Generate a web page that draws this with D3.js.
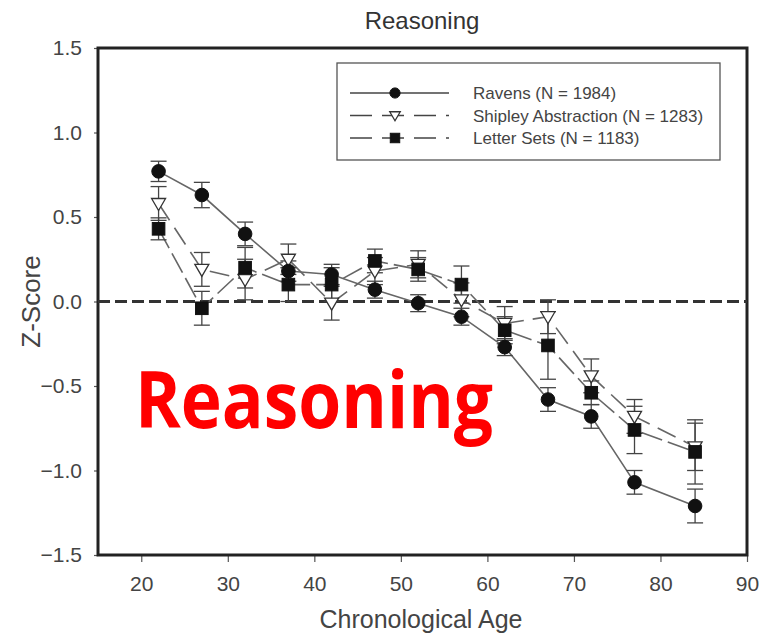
<!DOCTYPE html>
<html>
<head>
<meta charset="utf-8">
<script src="https://cdn.jsdelivr.net/npm/d3@7"></script>
<style>
    body { margin: 0; background: #fff; }
    svg { display: block; font-family: "Liberation Sans", Arial, sans-serif; }
</style>
</head>
<body>
<svg class="graph" width="767" height="637"></svg>
<script>
// data
const ages = [22, 27, 32, 37, 42, 47, 52, 57, 62, 67, 72, 77, 84];
const ravens = [0.77, 0.63, 0.40, 0.18, 0.16, 0.07, -0.01, -0.09, -0.27, -0.58, -0.68, -1.07, -1.21];
const ravensErr = [0.06, 0.075, 0.07, 0.06, 0.06, 0.05, 0.05, 0.05, 0.05, 0.07, 0.07, 0.07, 0.1];
const shipley = [0.58, 0.19, 0.13, 0.25, -0.01, 0.18, 0.22, 0.01, -0.13, -0.09, -0.44, -0.68, -0.86];
const shipleyErr = [0.1, 0.1, 0.12, 0.09, 0.1, 0.08, 0.08, 0.1, 0.1, 0.1, 0.1, 0.1, 0.14];
const letterSets = [0.43, -0.04, 0.20, 0.10, 0.10, 0.24, 0.19, 0.10, -0.17, -0.26, -0.54, -0.76, -0.89];
const letterErr = [0.065, 0.1, 0.12, 0.1, 0.1, 0.07, 0.07, 0.11, 0.08, 0.2, 0.07, 0.14, 0.19];
const xTicks = [20, 30, 40, 50, 60, 70, 80, 90];
const yTicks = [1.5, 1.0, 0.5, 0.0, -0.5, -1.0, -1.5];

const series = [
    { name: 'Ravens (N = 1984)', values: ravens, err: ravensErr, marker: 'circle', dash: null },
    { name: 'Shipley Abstraction (N = 1283)', values: shipley, err: shipleyErr, marker: 'triangle', dash: '20,9' },
    { name: 'Letter Sets (N = 1183)', values: letterSets, err: letterErr, marker: 'square', dash: '22,6' }
];

const m = { left: 98, top: 48, right: 20, bottom: 82 };
const w = 767 - m.left - m.right;
const h = 637 - m.top - m.bottom;

const svg = d3.select('svg.graph');
const g = svg.append('g').attr('transform', `translate(${m.left},${m.top})`);

const x = d3.scaleLinear().domain([15, 90]).range([0, w]);
const y = d3.scaleLinear().domain([-1.5, 1.5]).range([h, 0]);

// axes
const xAxis = g.append('g')
    .attr('transform', `translate(0,${h})`)
    .call(d3.axisBottom(x).tickValues(xTicks).tickSize(7).tickPadding(14).tickFormat(d3.format('d')));
const yAxis = g.append('g')
    .call(d3.axisLeft(y).tickValues(yTicks).tickSize(4).tickPadding(12).tickFormat(d3.format('.1f')));
[xAxis, yAxis].forEach(a => {
    a.select('.domain').remove();
    a.selectAll('line').attr('stroke', '#555').attr('stroke-width', 1.2);
    a.selectAll('text').attr('fill', '#444').attr('font-size', 21);
});

// frame
g.append('rect')
    .attr('width', w).attr('height', h)
    .attr('fill', 'none').attr('stroke', '#222').attr('stroke-width', 3);

// zero reference line
g.append('line')
    .attr('x1', 0).attr('x2', w)
    .attr('y1', y(0)).attr('y2', y(0))
    .attr('stroke', '#333').attr('stroke-width', 3)
    .attr('stroke-dasharray', '12,5');

// series lines
const line = d3.line().x((d, i) => x(ages[i])).y(d => y(d));
series.forEach(s => {
    g.append('path')
        .datum(s.values)
        .attr('d', line)
        .attr('fill', 'none')
        .attr('stroke', '#666')
        .attr('stroke-width', 1.6)
        .attr('stroke-dasharray', s.dash);
});

// error bars
series.forEach(s => {
    const eb = g.append('g').attr('stroke', '#444').attr('stroke-width', 1.3);
    s.values.forEach((v, i) => {
        const cx = x(ages[i]);
        const top = y(v + s.err[i]), bot = y(v - s.err[i]);
        eb.append('line').attr('x1', cx).attr('x2', cx).attr('y1', top).attr('y2', bot);
        eb.append('line').attr('x1', cx - 8).attr('x2', cx + 8).attr('y1', top).attr('y2', top);
        eb.append('line').attr('x1', cx - 8).attr('x2', cx + 8).attr('y1', bot).attr('y2', bot);
    });
});

// markers
function drawMarker(sel, type, cx, cy, k = 1) {
    if (type === 'circle') {
        sel.append('circle').attr('cx', cx).attr('cy', cy).attr('r', 6.8 * k)
            .attr('fill', '#111').attr('stroke', '#111');
    } else if (type === 'square') {
        const s = 6.3 * k;
        sel.append('rect').attr('x', cx - s).attr('y', cy - s).attr('width', 2 * s).attr('height', 2 * s)
            .attr('fill', '#111').attr('stroke', '#111');
    } else {
        sel.append('path')
            .attr('d', `M${cx - 7 * k},${cy - 5 * k} L${cx + 7 * k},${cy - 5 * k} L${cx},${cy + 7 * k} Z`)
            .attr('fill', '#fff').attr('stroke', '#333').attr('stroke-width', 1.3);
    }
}
[series[1], series[2], series[0]].forEach(s => {
    const mk = g.append('g');
    s.values.forEach((v, i) => drawMarker(mk, s.marker, x(ages[i]), y(v)));
});

// legend
const lg = svg.append('g').attr('transform', 'translate(337,63)');
lg.append('rect').attr('width', 383).attr('height', 97)
    .attr('fill', '#fff').attr('stroke', '#555').attr('stroke-width', 1.3);
series.forEach((s, i) => {
    const ly = 30 + i * 22.5;
    lg.append('line').attr('x1', 13).attr('x2', 112).attr('y1', ly).attr('y2', ly)
        .attr('stroke', '#444').attr('stroke-width', 1.3)
        .attr('stroke-dasharray', s.dash ? '22,10' : null);
    drawMarker(lg, s.marker, 58, ly, 0.75);
    lg.append('text').attr('x', 136).attr('y', ly + 6)
        .attr('font-size', 17).attr('fill', '#444').text(s.name);
});

// titles
svg.append('text').attr('x', 422).attr('y', 29)
    .attr('text-anchor', 'middle').attr('font-size', 24).attr('fill', '#333').text('Reasoning');
svg.append('text').attr('x', 421).attr('y', 628)
    .attr('text-anchor', 'middle').attr('font-size', 25).attr('fill', '#444').text('Chronological Age');
svg.append('text')
    .attr('transform', `translate(40,${m.top + y(0)}) rotate(-90)`)
    .attr('text-anchor', 'middle').attr('font-size', 26).attr('fill', '#444').text('Z-Score');

// red overlay label
svg.append('text').attr('x', 135).attr('y', 428)
    .attr('font-family', '"Open Sans", "Noto Sans", sans-serif')
    .attr('font-weight', 'bold').attr('font-size', 78).attr('fill', '#ff0000')
    .attr('textLength', 358).attr('lengthAdjust', 'spacingAndGlyphs')
    .text('Reasoning');
</script>
</body>
</html>
